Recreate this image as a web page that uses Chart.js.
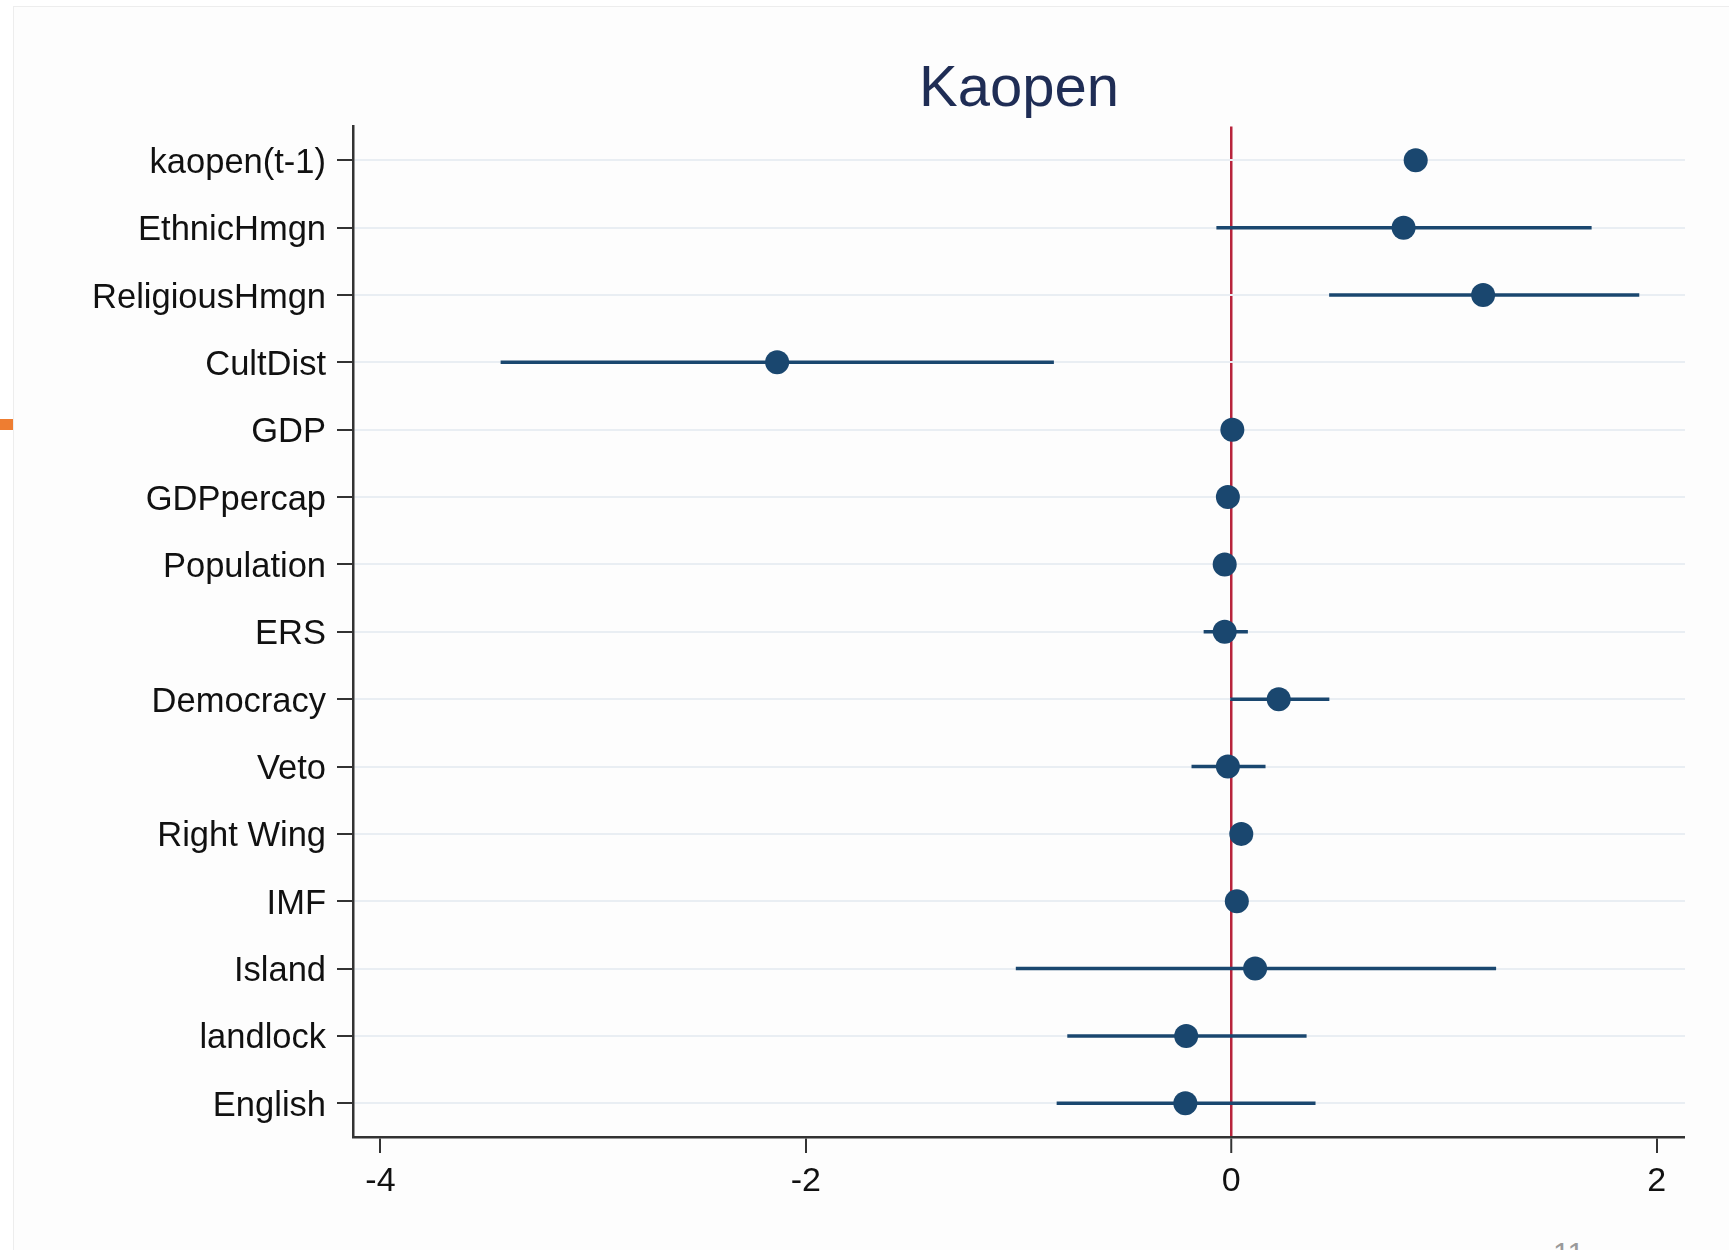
<!DOCTYPE html>
<html>
<head>
<meta charset="utf-8">
<script src="https://cdn.jsdelivr.net/npm/chart.js@4/dist/chart.umd.min.js"></script>
<style>
  html, body { margin: 0; padding: 0; background: #ffffff; overflow: hidden; }
  body { width: 1729px; height: 1250px; position: relative; }
  #frame { position: absolute; left: 13px; top: 6px; width: 1716px; height: 1260px; border: 1px solid #ededed; border-right: none; background: #fdfdfd; }
  #mark { position: absolute; left: 0; top: 419px; width: 13px; height: 11px; background: #ee7d31; }
  #page { position: absolute; left: 1553px; top: 1236px; font: 30px "Liberation Sans", Arial, sans-serif; color: #9a9a9a; }
  canvas { position: absolute; left: 0; top: 0; }
</style>
</head>
<body>
<div id="frame"></div>
<div id="mark"></div>
<div id="page">11</div>
<canvas id="c" width="1729" height="1250"></canvas>
<script>
const categories = ["kaopen(t-1)", "EthnicHmgn", "ReligiousHmgn", "CultDist", "GDP", "GDPpercap",
  "Population", "ERS", "Democracy", "Veto", "Right Wing", "IMF", "Island", "landlock", "English"];
const estimates = [0.867, 0.81, 1.184, -2.135, 0.005, -0.016, -0.031, -0.031, 0.223, -0.016, 0.047, 0.026, 0.112, -0.212, -0.216];
const ciLow  = [0.84, -0.07, 0.46, -3.435, -0.01, -0.03, -0.045, -0.13, -0.005, -0.187, 0.03, 0.01, -1.013, -0.771, -0.821];
const ciHigh = [0.89, 1.694, 1.918, -0.834, 0.02, 0.0, -0.015, 0.078, 0.461, 0.161, 0.065, 0.045, 1.245, 0.354, 0.396];
const xTicks = [-4, -2, 0, 2];
const titleText = "Kaopen";

const navy = "#1a476f";
const font = "'Liberation Sans', Arial, Helvetica, sans-serif";

const datasets = [{
  label: "estimate",
  data: categories.map((c, i) => ({ x: estimates[i], y: c })),
  pointRadius: 12,
  pointBackgroundColor: navy,
  pointBorderColor: navy,
  pointBorderWidth: 0,
  showLine: false,
  order: 0
}];
categories.forEach((c, i) => {
  datasets.push({
    label: "ci " + c,
    data: [{ x: ciLow[i], y: c }, { x: ciHigh[i], y: c }],
    showLine: true,
    borderColor: navy,
    borderWidth: 3.5,
    pointRadius: 0,
    order: 1
  });
});

new Chart(document.getElementById("c"), {
  type: "scatter",
  data: { datasets },
  options: {
    responsive: false,
    animation: false,
    devicePixelRatio: 1,
    layout: { padding: { left: 0, right: 44, top: 0, bottom: 0 } },
    plugins: {
      legend: { display: false },
      tooltip: { enabled: false },
      title: {
        display: true,
        text: titleText,
        fullSize: false,
        color: "#1f2d55",
        font: { family: font, size: 58, weight: "normal", lineHeight: 1.2 },
        padding: { top: 55, bottom: 2 }
      }
    },
    scales: {
      x: {
        type: "linear",
        min: -4.129,
        max: 2.133,
        afterBuildTicks: (s) => { s.ticks = xTicks.map(v => ({ value: v })); },
        afterFit: (s) => { s.height = 113; },
        border: { display: true, color: "#333333", width: 2.5 },
        grid: {
          drawOnChartArea: true,
          color: (ctx) => (ctx.tick && ctx.tick.value === 0) ? "#b8243c" : "rgba(0,0,0,0)",
          lineWidth: (ctx) => (ctx.tick && ctx.tick.value === 0) ? 2.5 : 0,
          tickColor: "#333333",
          tickWidth: 2,
          tickLength: 16
        },
        ticks: {
          color: "#111111",
          padding: 8,
          font: { family: font, size: 34 },
          callback: (v) => String(v)
        }
      },
      y: {
        type: "category",
        labels: categories,
        offset: true,
        afterFit: (s) => { s.width = 353; },
        border: { display: true, color: "#333333", width: 2.5 },
        grid: {
          color: "#e9eef3",
          lineWidth: 2,
          tickColor: "#333333",
          tickWidth: 2,
          tickLength: 16,
          offset: false
        },
        ticks: {
          color: "#111111",
          padding: 11,
          labelOffset: 3,
          font: { family: font, size: 34.5 }
        }
      }
    }
  }
});
</script>
</body>
</html>
